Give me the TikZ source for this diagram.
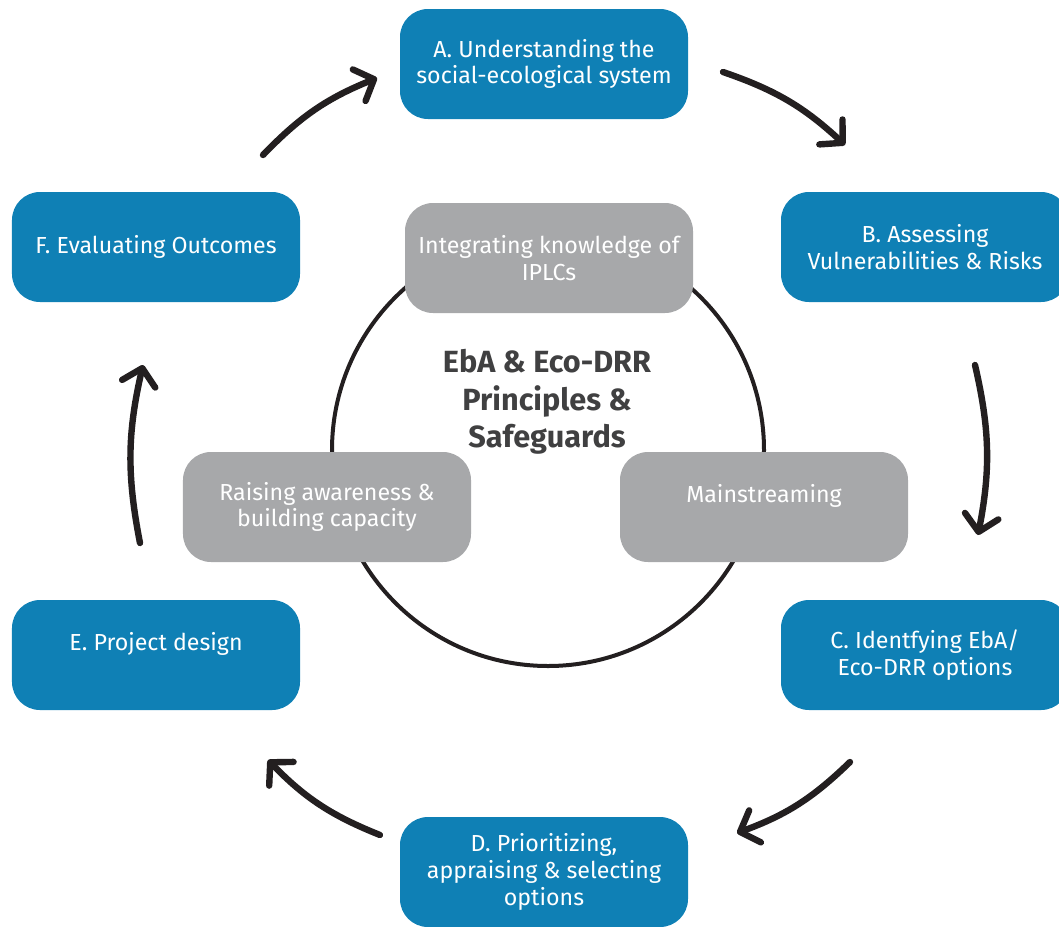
\documentclass[tikz,border=0pt]{standalone}
\usepackage{fontspec}
\setmainfont{Fira Sans}
\usetikzlibrary{arrows.meta}

\definecolor{stepblue}{HTML}{0F80B5}
\definecolor{themegray}{HTML}{A7A8AA}
\definecolor{ink}{HTML}{231F20}
\definecolor{coretext}{HTML}{404041}

\begin{document}
\begin{tikzpicture}[x=0.25mm, y=-0.25mm,
    stage/.style={rectangle, rounded corners=7mm, fill=stepblue, text=white,
        minimum width=72mm, minimum height=27.5mm, inner sep=0pt, align=center,
        font=\fontsize{16.5}{19}\selectfont},
    theme/.style={stage, fill=themegray},
    cyc/.style={-{Straight Barb[round, length=4mm, width=8.5mm]}, line width=1.6mm,
        draw=ink, line cap=round, bend left=12}]
    \path[use as bounding box] (0,0) rectangle (1059,926);
    \clip (0,0) rectangle (1059,926);

    % ring of principles
    \node[circle, draw=ink, line width=1mm, minimum size=108mm, inner sep=0pt] (ring) at (548,450) {};
    \node[font=\fontsize{21.8}{26.7}\selectfont\bfseries, text=coretext, align=center] (core) at (547,402)
        {EbA \& Eco-DRR\\Principles \&\\Safeguards};

    \node[theme] (iplc) at (549,258) {Integrating knowledge of\\IPLCs};
    \node[theme] (aware) at (327,507) {Raising awareness \&\\building capacity};
    \node[theme] (main) at (764,507) {Mainstreaming\\\mbox{}};

    % steps of the cycle
    \node[stage] (s_a) at (544,64) {A. Understanding the\\social-ecological system};
    \node[stage] (s_b) at (925,247) {B. Assessing\\Vulnerabilities \& Risks};
    \node[stage] (s_c) at (925,655) {C. Identfying EbA/\\Eco-DRR options};
    \node[stage] (s_d) at (544,872) {D. Prioritizing,\\appraising \& selecting\\options};
    \node[stage] (s_e) at (156,655) {E. Project design\\\mbox{}};
    \node[stage] (s_f) at (156,247) {F. Evaluating Outcomes};

    \coordinate (fa_out) at (263,155);
    \coordinate (fa_in) at (377,78);
    \coordinate (ab_out) at (723,72);
    \coordinate (ab_in) at (845,145);
    \coordinate (bc_out) at (975,365);
    \coordinate (bc_in) at (978,535);
    \coordinate (cd_out) at (850,762);
    \coordinate (cd_in) at (737,833);
    \coordinate (de_out) at (380,835);
    \coordinate (de_in) at (268,760);
    \coordinate (ef_out) at (140,543);
    \coordinate (ef_in) at (143,365);

    \path
    (fa_out) edge [cyc] (fa_in)
    (ab_out) edge [cyc] (ab_in)
    (bc_out) edge [cyc] (bc_in)
    (cd_out) edge [cyc] (cd_in)
    (de_out) edge [cyc] (de_in)
    (ef_out) edge [cyc] (ef_in);
\end{tikzpicture}
\end{document}
